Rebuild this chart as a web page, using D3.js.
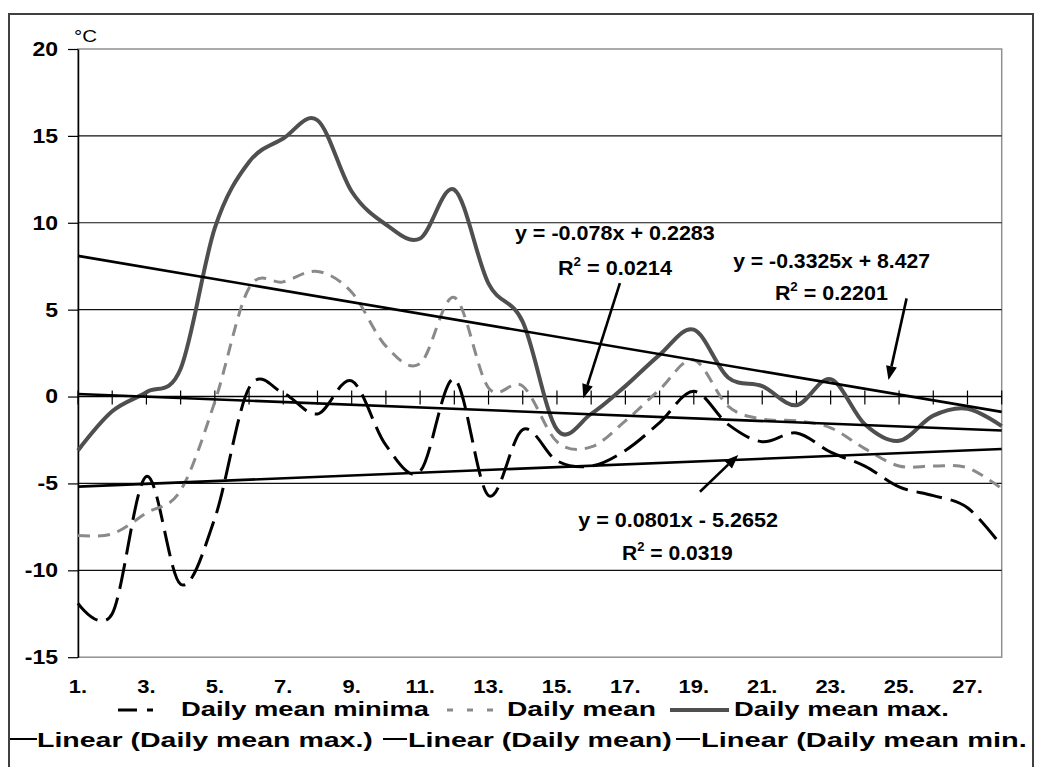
<!DOCTYPE html>
<html><head><meta charset="utf-8">
<script src="https://cdn.jsdelivr.net/npm/d3@7"></script>
<style>body{margin:0;background:#fff}svg{display:block}</style>
</head><body><svg id="c" width="1038" height="767"></svg>
<script>
// ---------- data ----------
const categories = ["1.","2.","3.","4.","5.","6.","7.","8.","9.","10.","11.","12.","13.","14.",
  "15.","16.","17.","18.","19.","20.","21.","22.","23.","24.","25.","26.","27.","28."];
const dailyMeanMin = [-11.9,-12.5,-4.6,-10.8,-7.0,0.5,0.2,-1.0,0.9,-2.8,-4.3,1.0,-5.7,-1.9,
  -3.7,-4.0,-3.1,-1.5,0.3,-1.6,-2.6,-2.1,-3.2,-4.0,-5.2,-5.7,-6.4,-8.6];
const dailyMean = [-8.0,-7.9,-6.7,-5.4,-0.3,6.25,6.6,7.2,6.0,2.9,1.9,5.7,0.5,0.6,
  -2.6,-2.9,-1.4,0.4,2.1,-0.55,-1.3,-1.4,-1.8,-3.0,-4.0,-4.0,-4.1,-5.3];
const dailyMeanMax = [-3.1,-0.85,0.25,1.6,9.7,13.5,14.85,15.9,11.8,9.9,9.1,11.9,6.5,4.3,
  -1.9,-1.0,0.6,2.4,3.85,1.1,0.6,-0.5,1.0,-1.6,-2.55,-1.1,-0.7,-1.7];
const yTicks = [-15,-10,-5,0,5,10,15,20];
const seriesNames = ["Daily mean minima","Daily mean","Daily mean max."];
const trendNames = ["Linear (Daily mean max.)","Linear (Daily mean)","Linear (Daily mean min."];
// linear trend lines (max, mean, min) as given by their equations
const trendSlope = [-0.3325,-0.078,0.0801];
const trendIntercept = [8.427,0.2283,-5.2652];
const trendEqLabels = ["y = -0.3325x + 8.427","y = -0.078x + 0.2283","y = 0.0801x - 5.2652"];
const trendR2Labels = [" = 0.2201"," = 0.0214"," = 0.0319"];
const unitLabel = "°C";

// ---------- layout ----------
const FONT = '"Liberation Sans", Arial, Helvetica, sans-serif';
const svg = d3.select("#c");
const x = d3.scaleLinear().domain([1, 28]).range([78, 1001.7]);
const y = d3.scaleLinear().domain([-15, 20]).range([657.2, 49]);
const days = categories.map((c, i) => i + 1);

function addText(parent, parts, o) {
  const g = parent.append("g");
  const t = g.append("text").attr("font-family", FONT).attr("font-size", o.size)
    .attr("font-weight", o.weight || "normal").attr("fill", o.fill || "#000");
  parts.forEach(p => {
    const ts = t.append("tspan").text(p.text);
    if (p.sup) ts.attr("font-size", o.size * 0.62).attr("dy", -o.size * 0.42);
    else if (p.after) ts.attr("dy", o.size * 0.42);
  });
  const w = t.node().getComputedTextLength();
  const sx = o.width ? o.width / w : (o.stretch || 1);
  const tw = w * sx;
  const left = o.anchor === "middle" ? o.x - tw / 2 : o.anchor === "end" ? o.x - tw : o.x;
  g.attr("transform", `translate(${left},${o.y}) scale(${sx},1)`);
  return g;
}

// outer frame
svg.append("rect").attr("x", 9).attr("y", 14).attr("width", 1024).attr("height", 800)
  .attr("fill", "none").attr("stroke", "#404040").attr("stroke-width", 2);

// plot area border
svg.append("rect").attr("x", x(1)).attr("y", y(20)).attr("width", x(28) - x(1))
  .attr("height", y(-15) - y(20)).attr("fill", "none").attr("stroke", "#909090").attr("stroke-width", 1.5);

// gridlines
svg.append("g").selectAll("line").data(yTicks.filter(v => v !== 20 && v !== -15 && v !== 0)).join("line")
  .attr("x1", x(1)).attr("x2", x(28)).attr("y1", d => y(d)).attr("y2", d => y(d))
  .attr("stroke", "#111").attr("stroke-width", 1.2);

// y axis
const yAxis = svg.append("g").attr("transform", `translate(${x(1)},0)`)
  .call(d3.axisLeft(y).tickValues(yTicks).tickSize(10).tickSizeOuter(0).tickPadding(10).tickFormat(d => String(d)));
yAxis.select(".domain").attr("stroke", "#000").attr("stroke-width", 1.5);
yAxis.selectAll(".tick line").attr("stroke", "#000").attr("stroke-width", 1.2);
yAxis.selectAll("text").attr("font-family", FONT).attr("font-size", 20).attr("font-weight", "bold")
  .attr("fill", "#000").each(function () {
    const w = this.getComputedTextLength(), t = w * 1.15;
    d3.select(this).attr("text-anchor", "start").attr("x", -20 - t)
      .attr("textLength", t).attr("lengthAdjust", "spacingAndGlyphs");
  });

// unit label
addText(svg, [{ text: unitLabel }], { x: 74, y: 42, size: 17, width: 23 });

// horizontal axis at 0 with crossing ticks
svg.append("line").attr("x1", x(1)).attr("x2", x(28)).attr("y1", y(0)).attr("y2", y(0))
  .attr("stroke", "#000").attr("stroke-width", 1.5);
svg.append("g").selectAll("line").data(days).join("line")
  .attr("x1", d => x(d)).attr("x2", d => x(d)).attr("y1", y(0) - 6).attr("y2", y(0) + 8)
  .attr("stroke", "#000").attr("stroke-width", 1.2);

// category labels (every second)
days.filter(d => d % 2 === 1).forEach(d => {
  addText(svg, [{ text: categories[d - 1] }], { x: x(d), y: 693, size: 18, weight: "bold", anchor: "middle", stretch: 1.22 });
});

// series
const line = d3.line().x((d, i) => x(i + 1)).y(d => y(d)).curve(d3.curveCatmullRom.alpha(0));
svg.append("path").datum(dailyMeanMin).attr("d", line).attr("fill", "none")
  .attr("stroke", "#000").attr("stroke-width", 3).attr("stroke-dasharray", "26,9");
svg.append("path").datum(dailyMean).attr("d", line).attr("fill", "none")
  .attr("stroke", "#8a8a8a").attr("stroke-width", 3).attr("stroke-dasharray", "12,8");
svg.append("path").datum(dailyMeanMax).attr("d", line).attr("fill", "none")
  .attr("stroke", "#4f4f4f").attr("stroke-width", 4).attr("stroke-linejoin", "round");

// trend lines
const tline = d3.line().x(d => x(d[0])).y(d => y(d[1]));
trendSlope.forEach((s, i) => {
  const pts = [[1, s * 1 + trendIntercept[i]], [28, s * 28 + trendIntercept[i]]];
  svg.append("path").datum(pts).attr("d", tline).attr("fill", "none")
    .attr("stroke", "#000").attr("stroke-width", 2.6);
});

// equation labels, positioned in data units (day, value): [eqX, eqY, eqW, r2X, r2Y, r2W]
const eqPos = [
  [20.15, 7.40, 197, 21.37, 5.56, 113],
  [13.77, 9.01, 200, 15.03, 6.99, 114],
  [15.62, -7.51, 200, 16.90, -9.41, 111]
];
eqPos.forEach((p, i) => {
  addText(svg, [{ text: trendEqLabels[i] }], { x: x(p[0]), y: y(p[1]), size: 21, weight: "bold", width: p[2] });
  addText(svg, [{ text: "R" }, { text: "2", sup: true }, { text: trendR2Labels[i], after: true }],
    { x: x(p[3]), y: y(p[4]), size: 21, weight: "bold", width: p[5] });
});

// arrows (tail -> tip) in data units
const arrows = [
  [25.22, 5.65, 24.69, 0.95],
  [16.84, 6.53, 15.77, -0.10],
  [19.18, -5.48, 20.30, -3.36]
];
arrows.forEach(a => {
  const x0 = x(a[0]), y0 = y(a[1]), x1 = x(a[2]), y1 = y(a[3]);
  const ang = Math.atan2(y1 - y0, x1 - x0), L = 14, H = 5.5;
  const bx = x1 - L * Math.cos(ang), by = y1 - L * Math.sin(ang);
  svg.append("line").attr("x1", x0).attr("y1", y0).attr("x2", bx).attr("y2", by)
    .attr("stroke", "#000").attr("stroke-width", 2.6);
  svg.append("path").attr("d", `M${x1},${y1}L${bx - H * Math.sin(ang)},${by + H * Math.cos(ang)}L${bx + H * Math.sin(ang)},${by - H * Math.cos(ang)}Z`)
    .attr("fill", "#000");
});

// legend
const lg = svg.append("g");
// row 1
lg.append("line").attr("x1", 118).attr("x2", 153).attr("y1", 710).attr("y2", 710)
  .attr("stroke", "#000").attr("stroke-width", 3).attr("stroke-dasharray", "19,10");
addText(lg, [{ text: seriesNames[0] }], { x: 181, y: 716, size: 20, weight: "bold", width: 248 });
lg.append("line").attr("x1", 447).attr("x2", 493).attr("y1", 710).attr("y2", 710)
  .attr("stroke", "#8a8a8a").attr("stroke-width", 3).attr("stroke-dasharray", "6,14");
addText(lg, [{ text: seriesNames[1] }], { x: 507, y: 716, size: 20, weight: "bold", width: 149 });
lg.append("line").attr("x1", 670).attr("x2", 729).attr("y1", 710).attr("y2", 710)
  .attr("stroke", "#4f4f4f").attr("stroke-width", 4);
addText(lg, [{ text: seriesNames[2] }], { x: 734, y: 716, size: 20, weight: "bold", width: 215 });
// row 2
const row2 = [[10, 37, 37, 336], [383, 407, 408, 264], [676, 700, 701, 326]];
row2.forEach((r, i) => {
  lg.append("line").attr("x1", r[0]).attr("x2", r[1]).attr("y1", 739).attr("y2", 739)
    .attr("stroke", "#000").attr("stroke-width", 2);
  addText(lg, [{ text: trendNames[i] }], { x: r[2], y: 747, size: 21, weight: "bold", width: r[3] });
});
</script></body></html>
